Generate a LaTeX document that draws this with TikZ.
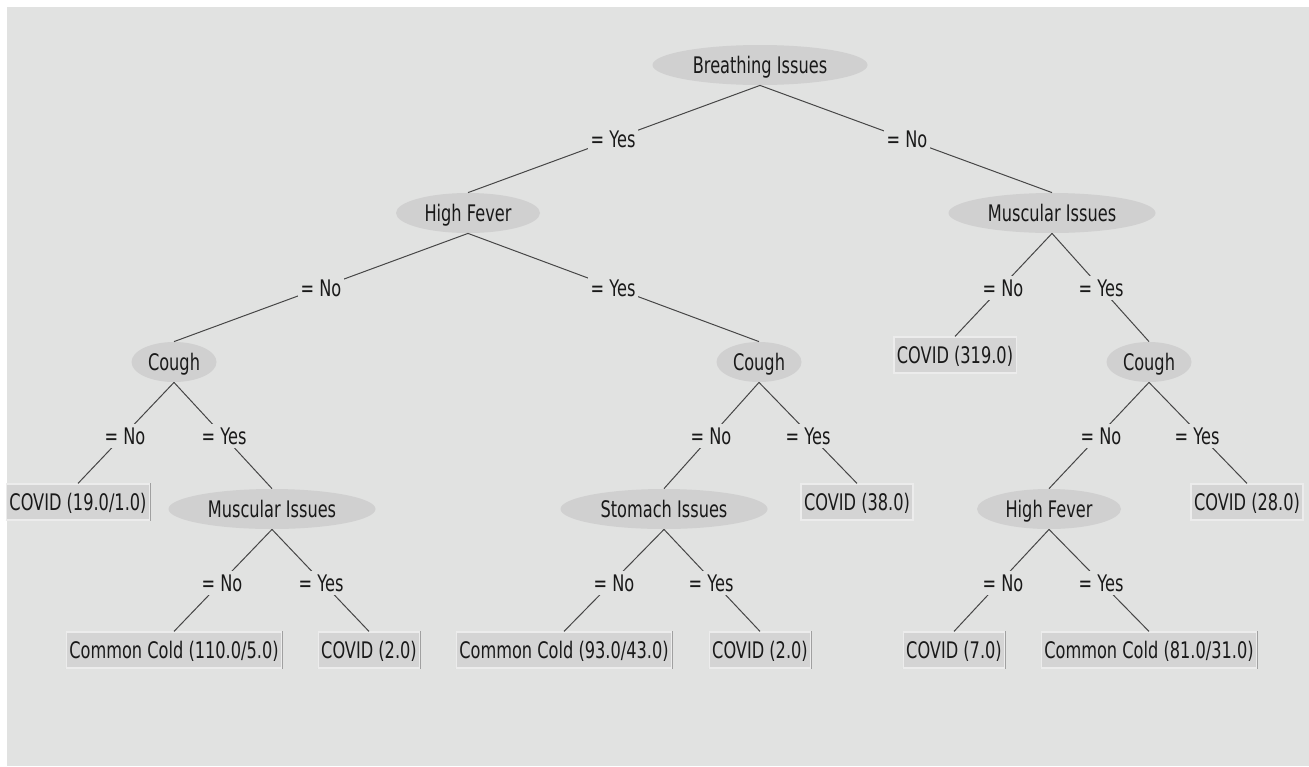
\documentclass[tikz,border=0pt]{standalone}
\usepackage{fontspec}
\setmainfont{DejaVu Sans}[FakeStretch=0.71]
\usetikzlibrary{shapes.geometric}
\definecolor{bgc}{RGB}{225,226,225}
\definecolor{ellc}{RGB}{208,208,208}
\definecolor{boxc}{RGB}{212,212,212}
\definecolor{boxlight}{RGB}{236,236,236}
\definecolor{boxdark}{RGB}{160,160,160}
\definecolor{edgec}{RGB}{70,70,70}
\tikzset{
  txt/.style={font=\fontsize{11.4pt}{13pt}\selectfont, text=black!90, text height=9.3pt, text depth=1pt},
  split/.style={txt, ellipse, fill=ellc, inner sep=0pt, minimum height=20pt},
  leaf/.style={txt, rectangle, fill=boxc, draw=boxlight, line width=0.6pt,
    inner xsep=1.5pt, inner ysep=0pt, minimum height=18pt,
    append after command={\pgfextra{\draw[boxdark, line width=0.6pt]
      (\tikzlastnode.south west) -- (\tikzlastnode.south east) -- (\tikzlastnode.north east);}}},
  lab/.style={txt, fill=bgc, inner xsep=1.5pt, inner ysep=1pt},
  edge/.style={draw=edgec, line width=0.5pt}
}
\begin{document}
\begin{tikzpicture}[x=0.5pt,y=-0.5pt]
\useasboundingbox (0,0) rectangle (1309,766);
\fill[white] (0,0) rectangle (1309,766);
\fill[bgc] (7,7) rectangle (1309,766);
% decision nodes
\node[split, minimum width=107.5pt] (BI) at (760,65) {Breathing Issues};
\node[split, minimum width=72pt] (HF1) at (468,213) {High Fever};
\node[split, minimum width=103.5pt] (MI1) at (1052,213) {Muscular Issues};
\node[split, minimum width=42.5pt] (C1) at (174,362) {Cough};
\node[split, minimum width=42.5pt] (C2) at (759,362) {Cough};
\node[split, minimum width=42.5pt] (C3) at (1149,362) {Cough};
\node[split, minimum width=103.5pt] (MI2) at (272,509) {Muscular Issues};
\node[split, minimum width=103.5pt] (SI) at (664,509) {Stomach Issues};
\node[split, minimum width=72pt] (HF2) at (1049,509) {High Fever};
% leaves
\node[leaf] (L1) at (78,502) {COVID (19.0/1.0)};
\node[leaf] (L2) at (955,355) {COVID (319.0)};
\node[leaf] (L3) at (857,502) {COVID (38.0)};
\node[leaf] (L4) at (1247,502) {COVID (28.0)};
\node[leaf] (L5) at (174,650) {Common Cold (110.0/5.0)};
\node[leaf] (L6) at (369,650) {COVID (2.0)};
\node[leaf] (L7) at (564,650) {Common Cold (93.0/43.0)};
\node[leaf] (L8) at (760,650) {COVID (2.0)};
\node[leaf] (L9) at (954,650) {COVID (7.0)};
\node[leaf] (L10) at (1149,650) {Common Cold (81.0/31.0)};
% edges with labels
\path[edge] (BI.south) -- (HF1.north) node[lab] (e1) at (613,139) {= Yes};
\path[edge] (BI.south) -- (MI1.north) node[lab] (e2) at (907,139) {= No};
\path[edge] (HF1.south) -- (C1.north) node[lab] (e3) at (321,288) {= No};
\path[edge] (HF1.south) -- (C2.north) node[lab] (e4) at (613,288) {= Yes};
\path[edge] (MI1.south) -- (L2.north) node[lab] (e5) at (1003,288) {= No};
\path[edge] (MI1.south) -- (C3.north) node[lab] (e6) at (1101,288) {= Yes};
\path[edge] (C1.south) -- (L1.north) node[lab] (e7) at (125,436) {= No};
\path[edge] (C1.south) -- (MI2.north) node[lab] (e8) at (224,436) {= Yes};
\path[edge] (C2.south) -- (SI.north) node[lab] (e9) at (711,436) {= No};
\path[edge] (C2.south) -- (L3.north) node[lab] (e10) at (808,436) {= Yes};
\path[edge] (C3.south) -- (HF2.north) node[lab] (e11) at (1101,436) {= No};
\path[edge] (C3.south) -- (L4.north) node[lab] (e12) at (1197,436) {= Yes};
\path[edge] (MI2.south) -- (L5.north) node[lab] (e13) at (222,583) {= No};
\path[edge] (MI2.south) -- (L6.north) node[lab] (e14) at (321,583) {= Yes};
\path[edge] (SI.south) -- (L7.north) node[lab] (e15) at (614,583) {= No};
\path[edge] (SI.south) -- (L8.north) node[lab] (e16) at (711,583) {= Yes};
\path[edge] (HF2.south) -- (L9.north) node[lab] (e17) at (1003,583) {= No};
\path[edge] (HF2.south) -- (L10.north) node[lab] (e18) at (1101,583) {= Yes};
\end{tikzpicture}
\end{document}
